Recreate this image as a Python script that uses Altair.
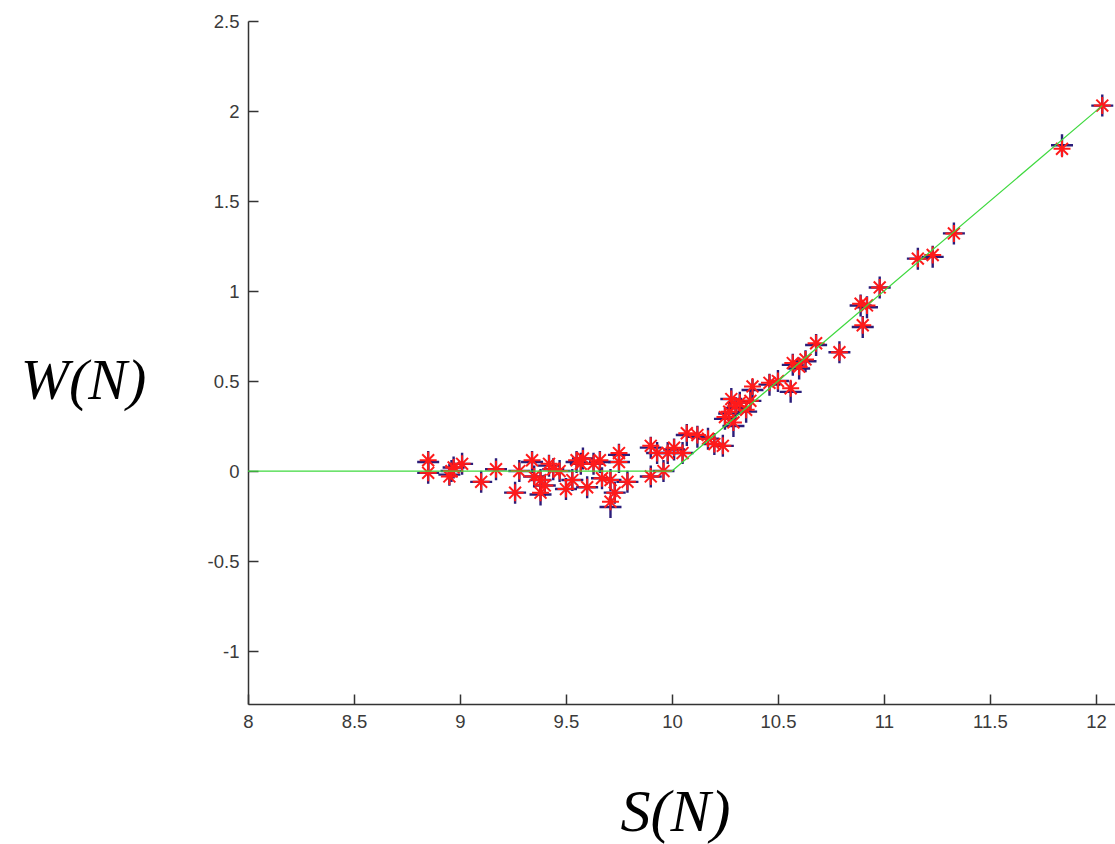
import altair as alt
import pandas as pd

# ---- data ----
s_vals = [8.85, 8.85, 8.95, 8.97, 9.01, 8.96, 9.10, 9.17, 9.26, 9.28,
          9.34, 9.35, 9.38, 9.38, 9.42, 9.40, 9.44, 9.47, 9.50, 9.53,
          9.55, 9.58, 9.57, 9.60, 9.63, 9.66, 9.67, 9.71, 9.71, 9.73,
          9.75, 9.75, 9.79, 9.90, 9.90, 9.93, 9.96, 9.98, 10.01, 10.05,
          10.07, 10.12, 10.17, 10.20, 10.24, 10.25, 10.27, 10.28, 10.30, 10.32,
          10.29, 10.35, 10.37, 10.38, 10.46, 10.50, 10.56, 10.57, 10.63, 10.60,
          10.68, 10.79, 10.90, 10.89, 10.92, 10.98, 11.16, 11.23, 11.33, 11.84,
          12.03]
w_plus = [0.05, -0.01, -0.02, 0.02, 0.04, 0.00, -0.06, 0.01, -0.12, 0.00,
          0.05, -0.03, -0.13, -0.05, 0.03, -0.08, 0.01, 0.00, -0.10, -0.05,
          0.05, 0.07, 0.04, -0.09, 0.04, 0.05, -0.04, -0.05, -0.20, -0.12,
          0.09, 0.05, -0.06, 0.13, -0.03, 0.10, 0.00, 0.10, 0.12, 0.10,
          0.20, 0.19, 0.18, 0.15, 0.14, 0.29, 0.32, 0.40, 0.35, 0.38,
          0.25, 0.33, 0.39, 0.45, 0.48, 0.50, 0.44, 0.59, 0.61, 0.57,
          0.70, 0.66, 0.80, 0.92, 0.91, 1.02, 1.18, 1.19, 1.32, 1.81,
          2.03]
w_star = [0.06, -0.01, -0.03, 0.02, 0.04, 0.00, -0.06, 0.01, -0.12, 0.00,
          0.06, -0.03, -0.12, -0.05, 0.04, -0.08, 0.01, 0.00, -0.10, -0.05,
          0.06, 0.07, 0.04, -0.09, 0.04, 0.06, -0.04, -0.05, -0.17, -0.12,
          0.10, 0.05, -0.06, 0.14, -0.03, 0.10, 0.00, 0.10, 0.13, 0.10,
          0.21, 0.20, 0.18, 0.15, 0.14, 0.30, 0.33, 0.40, 0.36, 0.38,
          0.27, 0.34, 0.39, 0.47, 0.49, 0.50, 0.46, 0.60, 0.62, 0.58,
          0.71, 0.66, 0.81, 0.93, 0.92, 1.02, 1.18, 1.20, 1.32, 1.79,
          2.03]

fit_s = [8.0, 10.0, 12.03]
fit_w = [0.0, 0.0, 2.03]

x_ticks = [8, 8.5, 9, 9.5, 10, 10.5, 11, 11.5, 12]
y_ticks = [-1, -0.5, 0, 0.5, 1, 1.5, 2, 2.5]

pts = pd.DataFrame({"S": s_vals, "Wp": w_plus, "Ws": w_star})
fit = pd.DataFrame({"S": fit_s, "W": fit_w})

W, H = 867, 683
X_DOM = [8, 12.09]
Y_DOM = [-1.294, 2.5]
xs = alt.Scale(domain=X_DOM, nice=False, zero=False)
ys = alt.Scale(domain=Y_DOM, nice=False, zero=False)

label_font = "Liberation Sans"
x_axis = alt.Axis(values=x_ticks, ticks=False, grid=False, domainColor="#333333",
                  domainWidth=1.5, labelFont=label_font, labelFontSize=18.5,
                  labelColor="#3a3a3a", labelPadding=8, labelFlush=False,
                  labelExpr="toString(datum.value)",
                  title="S(N)", titleFont="Liberation Serif", titleFontStyle="italic",
                  titleFontWeight="normal", titleFontSize=60, titleColor="black",
                  titleX=427, titleY=126, titleAlign="center", titleBaseline="alphabetic")
y_axis = alt.Axis(values=y_ticks, ticks=False, grid=False, domainColor="#333333",
                  domainWidth=1.5, labelFont=label_font, labelFontSize=18.5,
                  labelColor="#3a3a3a", labelPadding=9, labelFlush=False,
                  labelExpr="toString(datum.value)",
                  title="W(N)", titleFont="Liberation Serif", titleFontStyle="italic",
                  titleFontWeight="normal", titleFontSize=58, titleColor="black",
                  titleAngle=0, titleX=-165, titleY=377, titleAlign="center",
                  titleBaseline="alphabetic")

plus_path = "M-1,0L1,0M0,-1L0,1"
star_path = "M-1,0L1,0M0,-1L0,1M-0.7,-0.7L0.7,0.7M-0.7,0.7L0.7,-0.7"

plus = alt.Chart(pts).mark_point(shape=plus_path, size=484, filled=False,
                                 color="#2b1d7a", strokeWidth=2.4, opacity=1).encode(
    x=alt.X("S:Q", scale=xs, axis=x_axis), y=alt.Y("Wp:Q", scale=ys, axis=y_axis))

star = alt.Chart(pts).mark_point(shape=star_path, size=289, filled=False,
                                 color="#ff1a1a", strokeWidth=2.0, opacity=1).encode(
    x=alt.X("S:Q", scale=xs), y=alt.Y("Ws:Q", scale=ys))

line = alt.Chart(fit).mark_line(color="#3fd93f", strokeWidth=1.2).encode(
    x=alt.X("S:Q", scale=xs), y=alt.Y("W:Q", scale=ys))

main = alt.layer(plus, star, line)

# inward-pointing ticks: axes on the opposite sides, moved onto the data edges
tick_axis_x = alt.Axis(orient="top", offset=-H, values=x_ticks, labels=False, domain=False,
                       grid=False, ticks=True, tickSize=10, tickWidth=1.5,
                       tickColor="#333333", title=None)
tick_axis_y = alt.Axis(orient="right", offset=-W, values=y_ticks, labels=False, domain=False,
                       grid=False, ticks=True, tickSize=10, tickWidth=1.5,
                       tickColor="#333333", title=None)
ticks = alt.Chart(fit).mark_line(opacity=0).encode(
    x=alt.X("S:Q", scale=alt.Scale(domain=X_DOM, nice=False, zero=False), axis=tick_axis_x),
    y=alt.Y("W:Q", scale=alt.Scale(domain=Y_DOM, nice=False, zero=False), axis=tick_axis_y))

chart = alt.layer(main, ticks).resolve_scale(x="independent", y="independent").properties(
    width=W, height=H,
    background="white",
    autosize=alt.AutoSizeParams(type="none"),
    padding={"left": 248, "top": 21, "right": 0, "bottom": 140},
).configure_view(stroke=None)

chart.save("out.html", embed_options={"renderer": "svg", "actions": False})
